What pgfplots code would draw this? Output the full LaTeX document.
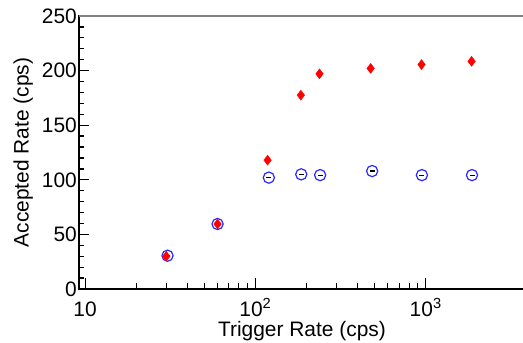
\documentclass[border=0pt]{standalone}
\usepackage{fontspec}
\setmainfont{Liberation Sans}
\usepackage{pgfplots}
\pgfplotsset{compat=1.18}
\definecolor{mkblue}{RGB}{40,40,255}
\begin{document}
\begin{tikzpicture}
\begin{axis}[
  at={(0,0)}, anchor=south west,
  scale only axis, width=446bp, height=273bp,
  xmode=log, xmin=9.22, xmax=3828,
  ymin=0, ymax=250,
  axis line style={black, line width=1.1bp},
  xtick={10,100,1000},
  xticklabels={10,10\textsuperscript{2},10\textsuperscript{3}},
  ytick={0,50,100,150,200,250},
  minor y tick num=4,
  tick align=inside,
  tick pos=left,
  major tick length=10.5bp, minor tick length=5.5bp,
  ytick style={black, line width=1.3bp},
  xtick style={black, line width=1bp},
  /pgf/number format/assume math mode=true,
  ticklabel style={font=\fontsize{21}{24}\selectfont},
  xticklabel style={anchor=base, yshift=-27bp},
  yticklabel style={inner xsep=2bp},
  xlabel={Trigger Rate (cps)},
  ylabel={Accepted Rate (cps)},
  label style={font=\fontsize{21}{24}\selectfont},
  xlabel style={at={(axis description cs:0.5,-0.1747)}, anchor=base},
  ylabel style={at={(axis description cs:-0.1132,0.5)}, anchor=base},
  clip=false,
]
\addplot[only marks, mark=o, mark size=5.6bp, mkblue, mark options={line width=1.2bp}]
 coordinates {(30.5,30.5) (60,59.5) (120,102) (186,105) (240,104.3) (485,108) (950,104.3) (1870,104.3)};
\addplot[only marks, mark=-, mark size=2.5bp, black, mark options={line width=1.2bp}]
 coordinates {(30.5,30.5) (60,59.5) (120,102) (186,105) (240,104.3) (485,108) (950,104.3) (1870,104.3)};
\addplot[only marks, mark=diamond*, mark size=5bp, red, mark options={fill=red, draw=red}]
 coordinates {(30,30) (60,59.5) (118,118) (185,177.5) (238,197) (475,202) (945,205.5) (1860,208.5)};
\draw[gray, line width=1.5bp] (rel axis cs:0,1) -- (rel axis cs:1,1);
\end{axis}
\pgfresetboundingbox
\path (-79bp,-54bp) rectangle (444bp,289bp);
\end{tikzpicture}
\end{document}
